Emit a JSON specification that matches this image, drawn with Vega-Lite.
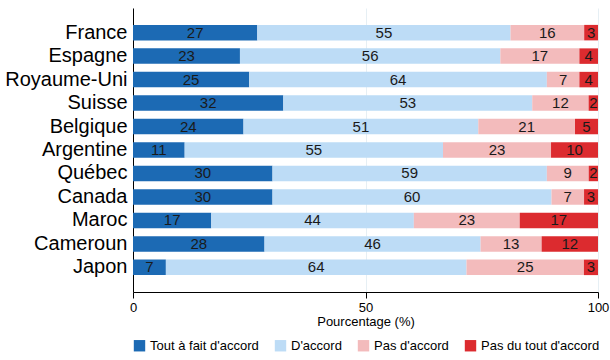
{
  "$schema": "https://vega.github.io/schema/vega-lite/v6.json",
  "autosize": {"type": "none"},
  "padding": {"left": 133, "top": 8, "right": 12, "bottom": 68},
  "width": 465,
  "height": 284,
  "background": "white",
  "config": {
    "font": "Liberation Sans",
    "view": {"stroke": null}
  },
  "data": {
    "values": [
      {"country": "France", "category": "Tout à fait d'accord", "rank": 1, "value": 27},
      {"country": "France", "category": "D'accord", "rank": 2, "value": 55},
      {"country": "France", "category": "Pas d'accord", "rank": 3, "value": 16},
      {"country": "France", "category": "Pas du tout d'accord", "rank": 4, "value": 3},
      {"country": "Espagne", "category": "Tout à fait d'accord", "rank": 1, "value": 23},
      {"country": "Espagne", "category": "D'accord", "rank": 2, "value": 56},
      {"country": "Espagne", "category": "Pas d'accord", "rank": 3, "value": 17},
      {"country": "Espagne", "category": "Pas du tout d'accord", "rank": 4, "value": 4},
      {"country": "Royaume-Uni", "category": "Tout à fait d'accord", "rank": 1, "value": 25},
      {"country": "Royaume-Uni", "category": "D'accord", "rank": 2, "value": 64},
      {"country": "Royaume-Uni", "category": "Pas d'accord", "rank": 3, "value": 7},
      {"country": "Royaume-Uni", "category": "Pas du tout d'accord", "rank": 4, "value": 4},
      {"country": "Suisse", "category": "Tout à fait d'accord", "rank": 1, "value": 32},
      {"country": "Suisse", "category": "D'accord", "rank": 2, "value": 53},
      {"country": "Suisse", "category": "Pas d'accord", "rank": 3, "value": 12},
      {"country": "Suisse", "category": "Pas du tout d'accord", "rank": 4, "value": 2},
      {"country": "Belgique", "category": "Tout à fait d'accord", "rank": 1, "value": 24},
      {"country": "Belgique", "category": "D'accord", "rank": 2, "value": 51},
      {"country": "Belgique", "category": "Pas d'accord", "rank": 3, "value": 21},
      {"country": "Belgique", "category": "Pas du tout d'accord", "rank": 4, "value": 5},
      {"country": "Argentine", "category": "Tout à fait d'accord", "rank": 1, "value": 11},
      {"country": "Argentine", "category": "D'accord", "rank": 2, "value": 55},
      {"country": "Argentine", "category": "Pas d'accord", "rank": 3, "value": 23},
      {"country": "Argentine", "category": "Pas du tout d'accord", "rank": 4, "value": 10},
      {"country": "Québec", "category": "Tout à fait d'accord", "rank": 1, "value": 30},
      {"country": "Québec", "category": "D'accord", "rank": 2, "value": 59},
      {"country": "Québec", "category": "Pas d'accord", "rank": 3, "value": 9},
      {"country": "Québec", "category": "Pas du tout d'accord", "rank": 4, "value": 2},
      {"country": "Canada", "category": "Tout à fait d'accord", "rank": 1, "value": 30},
      {"country": "Canada", "category": "D'accord", "rank": 2, "value": 60},
      {"country": "Canada", "category": "Pas d'accord", "rank": 3, "value": 7},
      {"country": "Canada", "category": "Pas du tout d'accord", "rank": 4, "value": 3},
      {"country": "Maroc", "category": "Tout à fait d'accord", "rank": 1, "value": 17},
      {"country": "Maroc", "category": "D'accord", "rank": 2, "value": 44},
      {"country": "Maroc", "category": "Pas d'accord", "rank": 3, "value": 23},
      {"country": "Maroc", "category": "Pas du tout d'accord", "rank": 4, "value": 17},
      {"country": "Cameroun", "category": "Tout à fait d'accord", "rank": 1, "value": 28},
      {"country": "Cameroun", "category": "D'accord", "rank": 2, "value": 46},
      {"country": "Cameroun", "category": "Pas d'accord", "rank": 3, "value": 13},
      {"country": "Cameroun", "category": "Pas du tout d'accord", "rank": 4, "value": 12},
      {"country": "Japon", "category": "Tout à fait d'accord", "rank": 1, "value": 7},
      {"country": "Japon", "category": "D'accord", "rank": 2, "value": 64},
      {"country": "Japon", "category": "Pas d'accord", "rank": 3, "value": 25},
      {"country": "Japon", "category": "Pas du tout d'accord", "rank": 4, "value": 3}
    ]
  },
  "transform": [
    {"stack": "value", "groupby": ["country"], "sort": [{"field": "rank", "order": "ascending"}], "offset": "normalize", "as": ["x0", "x1"]}
  ],
  "layer": [
    {
      "mark": {"type": "bar"},
      "encoding": {
        "y": {
          "field": "country", "type": "nominal",
          "sort": ["France", "Espagne", "Royaume-Uni", "Suisse", "Belgique", "Argentine", "Québec", "Canada", "Maroc", "Cameroun", "Japon"],
          "scale": {"paddingInner": 0.34, "paddingOuter": 0.72},
          "axis": {"title": null, "ticks": false, "domainColor": "black", "labelFontSize": 20, "labelColor": "black", "labelPadding": 6, "grid": false}
        },
        "x": {
          "field": "x0", "type": "quantitative",
          "scale": {"domain": [0, 1], "nice": false},
          "axis": {
            "values": [0, 0.5, 1], "labelExpr": "format(datum.value * 100, 'd')",
            "title": "Pourcentage (%)", "titleFontSize": 13, "titleFontWeight": "normal", "titleColor": "black", "titlePadding": 1,
            "labelFontSize": 13, "labelColor": "black", "labelPadding": 3, "labelFlush": false,
            "domainColor": "black", "tickColor": "black", "tickSize": 6,
            "grid": true, "gridColor": "#e6eff4", "gridWidth": 1
          }
        },
        "x2": {"field": "x1"},
        "color": {
          "field": "category", "type": "nominal",
          "scale": {
            "domain": ["Tout à fait d'accord", "D'accord", "Pas d'accord", "Pas du tout d'accord"],
            "range": ["#1c6ab4", "#bddcf6", "#f3bbbc", "#dc2b2f"]
          },
          "legend": {
            "title": null, "orient": "bottom", "direction": "horizontal", "columns": 4,
            "symbolType": "square", "symbolSize": 130, "symbolStrokeWidth": 0,
            "labelFontSize": 13, "labelColor": "black", "columnPadding": 15, "offset": 11
          }
        }
      }
    },
    {
      "transform": [
        {"fold": ["x0", "x1"], "as": ["k", "pos"]},
        {"aggregate": [{"op": "mean", "field": "pos", "as": "mid"}], "groupby": ["country", "category", "value"]}
      ],
      "mark": {"type": "text", "fontSize": 15, "color": "#1a1a1a", "baseline": "middle", "align": "center"},
      "encoding": {
        "y": {"field": "country", "type": "nominal",
          "sort": ["France", "Espagne", "Royaume-Uni", "Suisse", "Belgique", "Argentine", "Québec", "Canada", "Maroc", "Cameroun", "Japon"]},
        "x": {"field": "mid", "type": "quantitative"},
        "text": {"field": "value", "type": "quantitative"}
      }
    }
  ]
}
